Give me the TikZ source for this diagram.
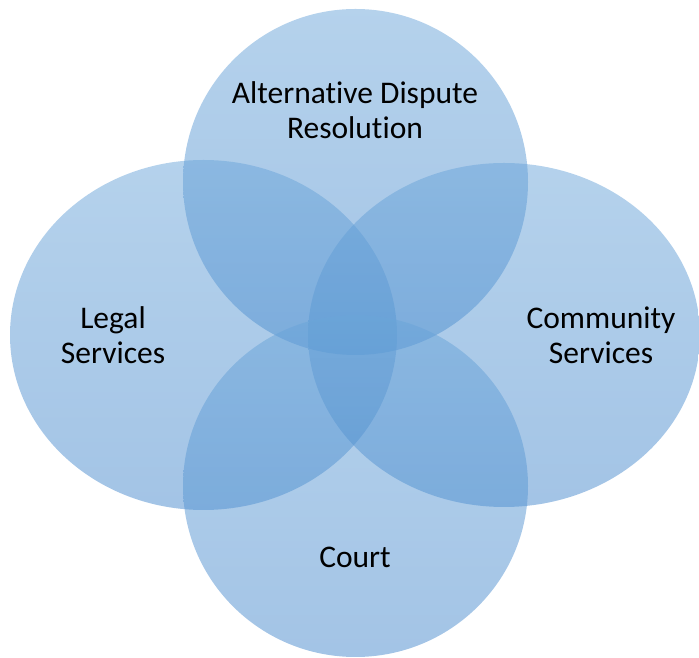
\documentclass[tikz,border=0pt]{standalone}
\usepackage{fontspec}
\setmainfont[Ligatures=NoCommon]{Carlito}
\definecolor{blobtop}{RGB}{107,165,217}
\definecolor{blobbot}{RGB}{71,137,205}
\begin{document}
\begin{tikzpicture}[x=1pt,y=1pt,
  blob/.style={top color=blobtop,bottom color=blobbot,fill opacity=0.5,draw=none},
  lbl/.style={align=center,font=\fontsize{31.5}{35}\selectfont,text=black}]
\useasboundingbox (0,0) rectangle (699,658);
% four overlapping ellipses
\shade[blob] (355.5,476) ellipse [x radius=172.5,y radius=173];
\shade[blob] (203.5,323) ellipse [x radius=193.5,y radius=175];
\shade[blob] (504,323) ellipse [x radius=196,y radius=172];
\shade[blob] (355.5,172) ellipse [x radius=172.5,y radius=171];
% labels
\node[lbl] (adr) at (355,548) {Alternative Dispute\\Resolution};
\node[lbl] (legal) at (113,323) {Legal\\Services};
\node[lbl] (comm) at (601,323) {Community\\Services};
\node[lbl] (court) at (355,101) {Court};
\end{tikzpicture}
\end{document}
